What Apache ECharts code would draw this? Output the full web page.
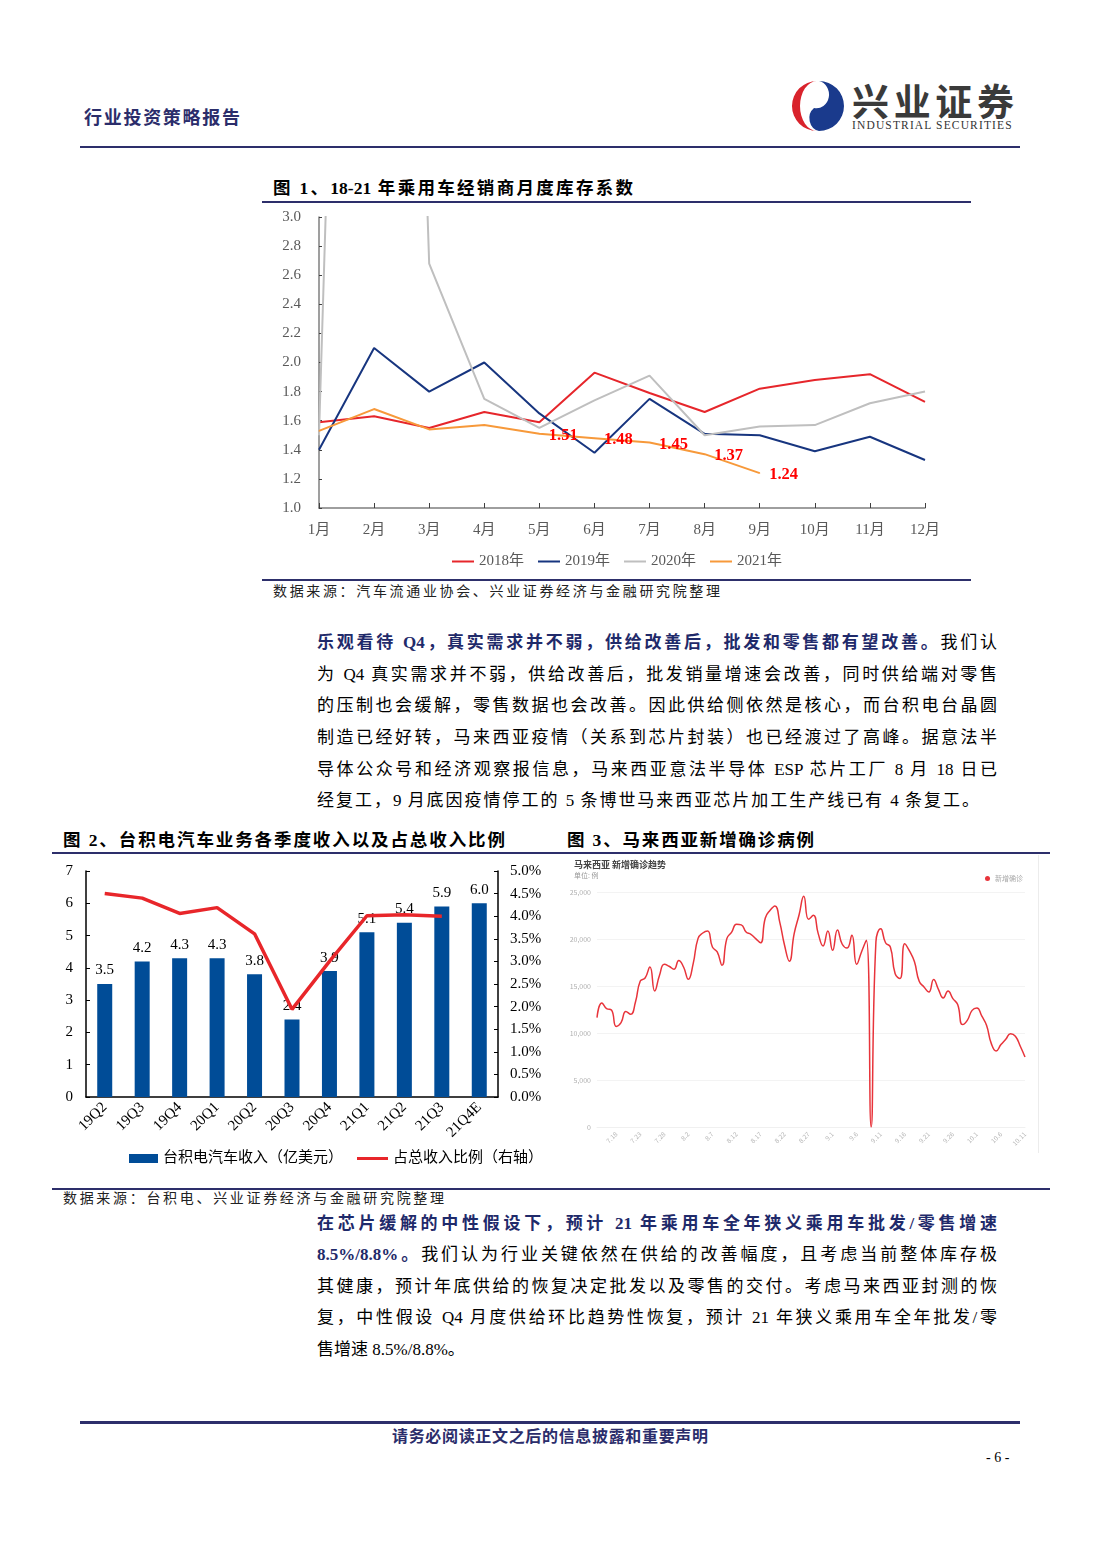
<!DOCTYPE html>
<html>
<head>
<meta charset="utf-8">
<script src="https://cdn.jsdelivr.net/npm/echarts@6/dist/echarts.min.js"></script>
<style>
  body { margin: 0; background: #fff; }
  #page { position: relative; width: 1102px; height: 1559px; background: #fff; overflow: hidden;
    font-family: "Liberation Serif", "Noto Sans CJK SC", serif; color: #000; }
  .abs { position: absolute; }
  .rule { position: absolute; background: #2d2f6b; }
  .ln { position: absolute; left: 317px; width: 680px; height: 24px; line-height: 24px; font-size: 17px;
    text-align: justify; text-align-last: justify; }
  .ln.last { text-align-last: left; }
  .b { font-weight: bold; color: #1f2a6a; }
  .fig { position: absolute; height: 24px; line-height: 24px; font-size: 17.5px; font-weight: bold;
    text-align: justify; text-align-last: justify; }
  .src { position: absolute; height: 20px; line-height: 20px; font-size: 14px; color: #222;
    text-align: justify; text-align-last: justify; }
</style>
</head>
<body>
<div id="page">
  <!-- header -->
  <div class="abs" style="left:84px;top:106px;width:156px;height:24px;line-height:24px;font-size:18px;font-weight:bold;color:#2b2d6b;text-align:justify;text-align-last:justify;">行业投资策略报告</div>
  <svg class="abs" style="left:790px;top:78px" width="56" height="56" viewBox="0 0 56 56">
    <path d="M27 3 A25 25 0 1 0 27 53 A17 25 0 0 1 27 3 Z" fill="#d9232c"/>
    <path d="M29 3 A25 25 0 0 1 29 53 A12 13 0 0 1 24 30 A10 11 0 0 0 29 3 Z" fill="#1a3a8c"/>
  </svg>
  <div class="abs" style="left:852px;top:78px;width:162px;height:44px;line-height:44px;font-size:37px;font-weight:bold;color:#3a3a3a;text-align:justify;text-align-last:justify;font-family:'Noto Sans CJK SC',sans-serif;">兴业证券</div>
  <div class="abs" style="left:852px;top:118px;width:175px;height:14px;line-height:14px;font-size:11.5px;color:#333;letter-spacing:1.15px;white-space:nowrap;">INDUSTRIAL SECURITIES</div>
  <div class="rule" style="left:80px;top:146px;width:940px;height:2px;"></div>

  <!-- figure 1 -->
  <div class="fig" style="left:273px;top:176px;width:360px;">图 1、18-21 年乘用车经销商月度库存系数</div>
  <div class="rule" style="left:262px;top:201px;width:709px;height:2px;"></div>
  <div id="chart1" class="abs" style="left:262px;top:205px;width:710px;height:372px;"></div>
  <div class="rule" style="left:262px;top:579px;width:709px;height:2px;"></div>
  <div class="src" style="left:273px;top:582px;width:447px;">数据来源：汽车流通业协会、兴业证券经济与金融研究院整理</div>

  <!-- paragraph 1 -->
  <div class="ln" style="top:631px;"><span class="b">乐观看待 Q4，真实需求并不弱，供给改善后，批发和零售都有望改善。</span>我们认</div>
  <div class="ln" style="top:663px;">为 Q4 真实需求并不弱，供给改善后，批发销量增速会改善，同时供给端对零售</div>
  <div class="ln" style="top:694px;">的压制也会缓解，零售数据也会改善。因此供给侧依然是核心，而台积电台晶圆</div>
  <div class="ln" style="top:726px;">制造已经好转，马来西亚疫情（关系到芯片封装）也已经渡过了高峰。据意法半</div>
  <div class="ln" style="top:758px;">导体公众号和经济观察报信息，马来西亚意法半导体 ESP 芯片工厂 8 月 18 日已</div>
  <div class="ln" style="top:789px;width:662px;">经复工，9 月底因疫情停工的 5 条博世马来西亚芯片加工生产线已有 4 条复工。</div>

  <!-- figures 2 and 3 -->
  <div class="fig" style="left:63px;top:828px;width:442px;">图 2、台积电汽车业务各季度收入以及占总收入比例</div>
  <div class="fig" style="left:567px;top:828px;width:247px;">图 3、马来西亚新增确诊病例</div>
  <div class="rule" style="left:52px;top:852px;width:998px;height:2px;"></div>
  <div id="chart2" class="abs" style="left:52px;top:858px;width:500px;height:320px;"></div>
  <div id="chart3" class="abs" style="left:560px;top:855px;width:478px;height:300px;"></div>
  <div class="abs" style="left:1038px;top:855px;width:1px;height:298px;background:#ececec;"></div>
  <div class="rule" style="left:52px;top:1188px;width:998px;height:2px;"></div>
  <div class="src" style="left:63px;top:1189px;width:381px;">数据来源：台积电、兴业证券经济与金融研究院整理</div>

  <!-- paragraph 2 -->
  <div class="ln b" style="top:1212px;">在芯片缓解的中性假设下，预计 21 年乘用车全年狭义乘用车批发/零售增速</div>
  <div class="ln" style="top:1243px;"><span class="b">8.5%/8.8%。</span>我们认为行业关键依然在供给的改善幅度，且考虑当前整体库存极</div>
  <div class="ln" style="top:1275px;">其健康，预计年底供给的恢复决定批发以及零售的交付。考虑马来西亚封测的恢</div>
  <div class="ln" style="top:1306px;">复，中性假设 Q4 月度供给环比趋势性恢复，预计 21 年狭义乘用车全年批发/零</div>
  <div class="ln last" style="top:1338px;">售增速 8.5%/8.8%。</div>

  <!-- footer -->
  <div class="rule" style="left:80px;top:1421px;width:940px;height:3px;"></div>
  <div class="abs" style="left:392px;top:1426px;width:316px;height:22px;line-height:22px;font-size:16px;font-weight:bold;color:#2b2d6b;text-align:justify;text-align-last:justify;">请务必阅读正文之后的信息披露和重要声明</div>
  <div class="abs" style="left:986px;top:1449px;width:32px;height:18px;line-height:18px;font-size:14px;">- 6 -</div>
</div>

<script>
// 图1 乘用车经销商库存系数
const months = ['1月', '2月', '3月', '4月', '5月', '6月', '7月', '8月', '9月', '10月', '11月', '12月']
const inv2018 = [1.59, 1.63, 1.55, 1.66, 1.59, 1.93, 1.79, 1.66, 1.82, 1.88, 1.92, 1.73]
const inv2019 = [1.40, 2.10, 1.80, 2.00, 1.65, 1.38, 1.75, 1.51, 1.50, 1.39, 1.49, 1.33]
const inv2020 = [1.50, 14.0, 2.68, 1.75, 1.55, 1.74, 1.91, 1.50, 1.56, 1.57, 1.72, 1.80]
const inv2021 = [1.53, 1.68, 1.54, 1.57, 1.51, 1.48, 1.45, 1.37, 1.24, null, null, null]

// 图2 台积电汽车业务
const quarters = ['19Q2', '19Q3', '19Q4', '20Q1', '20Q2', '20Q3', '20Q4', '21Q1', '21Q2', '21Q3', '21Q4E']
const autoRevenue = [3.5, 4.2, 4.3, 4.3, 3.8, 2.4, 3.9, 5.1, 5.4, 5.9, 6.0]
const revenueShare = [4.5, 4.4, 4.06, 4.19, 3.61, 1.94, 3.0, 4.01, 4.03, 4.0, null]

// 图3 马来西亚新增确诊
const days = [
  '7.14', '7.15', '7.16', '7.17', '7.18', '7.19', '7.20', '7.21', '7.22', '7.23', '7.24', '7.25', '7.26', '7.27', '7.28', '7.29', '7.30', '7.31',
  '8.1', '8.2', '8.3', '8.4', '8.5', '8.6', '8.7', '8.8', '8.9', '8.10', '8.11', '8.12', '8.13', '8.14', '8.15', '8.16', '8.17', '8.18', '8.19', '8.20',
  '8.21', '8.22', '8.23', '8.24', '8.25', '8.26', '8.27', '8.28', '8.29', '8.30', '8.31',
  '9.1', '9.2', '9.3', '9.4', '9.5', '9.6', '9.7', '9.8', '9.9', '9.10', '9.11', '9.12', '9.13', '9.14', '9.15', '9.16', '9.17', '9.18', '9.19', '9.20',
  '9.21', '9.22', '9.23', '9.24', '9.25', '9.26', '9.27', '9.28', '9.29', '9.30',
  '10.1', '10.2', '10.3', '10.4', '10.5', '10.6', '10.7', '10.8', '10.9', '10.10', '10.11'
]
const newCases = [
  11640, 13200, 12590, 12450, 10700, 11100, 12300, 11990, 13300, 15530,
  15850, 17020, 14470, 16140, 17310, 17100, 16780, 17700, 17020, 15710,
  17380, 20040, 20640, 20850, 19150, 18620, 17200, 20040, 20740, 21560,
  21500, 20740, 20500, 20040, 19600, 22240, 23050, 23500, 21800, 19330,
  17630, 20570, 22520, 24540, 22100, 22520, 20570, 19260, 20850, 18800,
  20960, 19440, 19040, 20400, 17310, 18620, 19860, 0, 19700, 21100,
  19600, 19150, 16300, 15800, 19500, 18700, 17600, 15500, 14900, 14360,
  15700, 14650, 13720, 14470, 13660, 13020, 10900, 11350, 12410, 12660,
  11810, 10820, 8870, 8090, 8770, 9330, 9930, 9650, 8620, 7450
]

const SERIF = '"Liberation Serif", "Noto Sans CJK SC", serif'
const SANS = '"Noto Sans CJK SC", "Noto Sans", sans-serif'

function drawChart1 () {
  let charts = echarts.init(document.getElementById('chart1'))
  let lineSeries = function (name, data, color) {
    return { name: name, type: 'line', data: data, symbol: 'none', lineStyle: { width: 2, color: color }, itemStyle: { color: color } }
  }
  let s2021 = lineSeries('2021年', inv2021, '#f7993a')
  // 标签需要挂在symbol上，所以用一个看不见的小点
  s2021.symbol = 'circle'
  s2021.symbolSize = 1
  s2021.showSymbol = true
  s2021.showAllSymbol = true
  s2021.label = {
    show: true,
    position: 'right',
    distance: 9,
    offset: [0, 2],
    color: '#ff0000',
    fontWeight: 'bold',
    fontSize: 16.5,
    fontFamily: SERIF,
    formatter: function (p) { return p.dataIndex >= 4 ? p.value.toFixed(2) : '' }
  }
  let option = {
    animation: false,
    grid: { left: 57, right: 47, top: 12, bottom: 69 },
    legend: {
      bottom: 3,
      left: 'center',
      icon: 'rect',
      itemWidth: 22,
      itemHeight: 2,
      itemGap: 14,
      textStyle: { fontSize: 15, color: '#595959', fontFamily: SERIF },
      data: ['2018年', '2019年', '2020年', '2021年']
    },
    xAxis: {
      type: 'category',
      data: months,
      boundaryGap: false,
      axisLine: { lineStyle: { color: '#7f7f7f', width: 1.5 } },
      axisTick: { inside: true, length: 5, lineStyle: { color: '#404040' } },
      axisLabel: { margin: 15, fontSize: 15, color: '#595959', fontFamily: SERIF }
    },
    yAxis: {
      type: 'value',
      min: 1.0,
      max: 3.0,
      interval: 0.2,
      splitLine: { show: false },
      axisLine: { show: true, lineStyle: { color: '#7f7f7f', width: 1.5 } },
      axisTick: { show: true, inside: true, length: 3, lineStyle: { color: '#404040' } },
      axisLabel: { margin: 18, fontSize: 15, color: '#595959', fontFamily: SERIF, formatter: function (v) { return v.toFixed(1) } }
    },
    series: [
      lineSeries('2018年', inv2018, '#e6262b'),
      lineSeries('2019年', inv2019, '#17357f'),
      lineSeries('2020年', inv2020, '#bfbfbf'),
      s2021
    ]
  }
  charts.setOption(option)
}

function drawChart2 () {
  let charts = echarts.init(document.getElementById('chart2'))
  let option = {
    animation: false,
    grid: { left: 34, right: 54, top: 13, bottom: 81 },
    legend: [
      {
        left: 72,
        top: 288,
        icon: 'rect',
        itemWidth: 29,
        itemHeight: 9,
        itemGap: 4,
        textStyle: { fontSize: 15, color: '#000', fontFamily: SERIF },
        data: ['台积电汽车收入（亿美元）']
      },
      {
        left: 300,
        top: 288,
        icon: 'rect',
        itemWidth: 31,
        itemHeight: 3,
        textStyle: { fontSize: 15, color: '#000', fontFamily: SERIF },
        data: ['占总收入比例（右轴）']
      }
    ],
    xAxis: {
      type: 'category',
      data: quarters,
      axisLine: { lineStyle: { color: '#000', width: 1.5 } },
      axisTick: { show: false },
      axisLabel: { rotate: 45, margin: 8, fontSize: 15, color: '#000', fontFamily: SERIF }
    },
    yAxis: [
      {
        type: 'value',
        min: 0,
        max: 7,
        interval: 1,
        splitLine: { show: false },
        axisLine: { show: true, lineStyle: { color: '#000', width: 1.5 } },
        axisTick: { show: true, inside: true, length: 4, lineStyle: { color: '#000' } },
        axisLabel: { margin: 13, fontSize: 15, color: '#000', fontFamily: SERIF }
      },
      {
        type: 'value',
        min: 0,
        max: 5,
        interval: 0.5,
        splitLine: { show: false },
        axisLine: { show: true, lineStyle: { color: '#000', width: 1.5 } },
        axisTick: { show: true, inside: true, length: 4, lineStyle: { color: '#000' } },
        axisLabel: { margin: 12, fontSize: 15, color: '#000', fontFamily: SERIF, formatter: function (v) { return v.toFixed(1) + '%' } }
      }
    ],
    series: [
      {
        name: '台积电汽车收入（亿美元）',
        type: 'bar',
        data: autoRevenue,
        barWidth: 15,
        itemStyle: { color: '#004c97' },
        label: { show: true, position: 'top', distance: 6, fontSize: 15, color: '#000', fontFamily: SERIF, formatter: function (p) { return p.value.toFixed(1) } }
      },
      {
        name: '占总收入比例（右轴）',
        type: 'line',
        yAxisIndex: 1,
        data: revenueShare,
        symbol: 'none',
        z: 5,
        lineStyle: { width: 3.5, color: '#e8262a' },
        itemStyle: { color: '#e8262a' }
      }
    ]
  }
  charts.setOption(option)
}

function drawChart3 () {
  let charts = echarts.init(document.getElementById('chart3'))
  let option = {
    animation: false,
    title: {
      text: '马来西亚 新增确诊趋势',
      subtext: '单位: 例',
      left: 9,
      top: 0,
      itemGap: 3,
      textStyle: { fontSize: 9, fontWeight: 'bold', color: '#444', fontFamily: SANS },
      subtextStyle: { fontSize: 7, color: '#999', fontFamily: SANS }
    },
    legend: {
      right: 10,
      top: 15,
      icon: 'circle',
      itemWidth: 5,
      itemHeight: 5,
      itemGap: 4,
      textStyle: { fontSize: 7, color: '#aaa', fontFamily: SANS },
      data: ['新增确诊']
    },
    grid: { left: 37, right: 13, top: 37, bottom: 28 },
    xAxis: {
      type: 'category',
      data: days,
      boundaryGap: false,
      axisLine: { lineStyle: { color: '#f0f0f0' } },
      axisTick: { show: false },
      axisLabel: {
        rotate: 45,
        margin: 6,
        fontSize: 6.5,
        color: '#b5b5b5',
        fontFamily: SANS,
        interval: function (index) { return (index - 4) % 5 === 0 }
      }
    },
    yAxis: {
      type: 'value',
      min: 0,
      max: 25000,
      interval: 5000,
      axisLine: { show: false },
      axisTick: { show: false },
      splitLine: { lineStyle: { color: '#f3f3f3' } },
      axisLabel: { margin: 6, fontSize: 7, color: '#b0b0b0', fontFamily: SANS }
    },
    series: [
      {
        name: '新增确诊',
        type: 'line',
        data: newCases,
        smooth: true,
        symbol: 'none',
        lineStyle: { width: 1.5, color: '#e8343b' },
        itemStyle: { color: '#e8343b' }
      }
    ]
  }
  charts.setOption(option)
}

drawChart1()
drawChart2()
drawChart3()
</script>
</body>
</html>
